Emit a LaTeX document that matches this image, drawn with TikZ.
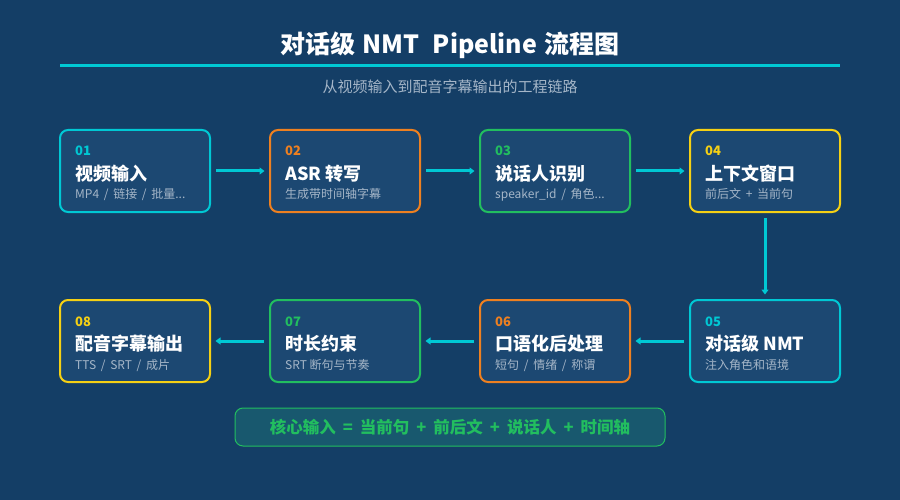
\documentclass[tikz,border=0pt]{standalone}
\usepackage{fontspec}
\setmainfont{Noto Sans CJK SC}
\usetikzlibrary{arrows.meta, positioning, calc}
\usepackage{xcolor}
\definecolor{bgblue}{RGB}{20,62,102}
\definecolor{boxfill}{RGB}{28,72,114}
\definecolor{accCyan}{RGB}{0,200,212}
\definecolor{accOrange}{RGB}{238,128,32}
\definecolor{accGreen}{RGB}{34,190,95}
\definecolor{accYellow}{RGB}{245,208,20}
\definecolor{subgray}{RGB}{165,182,200}
\definecolor{notefill}{RGB}{24,88,110}
\tikzstyle{stage} = [rectangle, rounded corners=8pt, minimum width=150pt, minimum height=82pt,
    line width=2pt, fill=boxfill]
\tikzstyle{num} = [anchor=base west, inner sep=0pt, font=\fontsize{13}{13}\selectfont\bfseries]
\tikzstyle{ttl} = [anchor=base west, inner sep=0pt, text=white, font=\fontsize{18}{18}\selectfont\bfseries]
\tikzstyle{sub} = [anchor=base west, inner sep=0pt, text=subgray, font=\fontsize{12}{12}\selectfont]
\tikzstyle{note} = [rectangle, rounded corners=8pt, minimum width=430pt, minimum height=38pt,
    draw=accGreen, line width=1pt, fill=notefill, text=accGreen, font=\fontsize{16.5}{16.5}\selectfont\bfseries]
\tikzstyle{arrow} = [line width=3pt, accCyan, shorten <=5pt, shorten >=4.5pt, -{Triangle[length=5pt,width=7pt]}]
\newcommand{\mkstage}[7]{%
  \node (#1) [stage, draw=#4] at (#2,#3) {};
  \node (#1num) [num, text=#4] at ($(#1.north west)+(16,27)$) {#5};
  \node (#1ttl) [ttl] at ($(#1.north west)+(16,51)$) {#6};
  \node (#1sub) [sub] at ($(#1.north west)+(16,70)$) {#7};}
\newcommand{\opsep}[1]{\hspace{7pt}#1\hspace{7pt}}
\newcommand{\sep}[1]{\hspace{2pt}#1\hspace{2pt}}

\begin{document}
\begin{tikzpicture}[x=1pt, y=-1pt]
\fill[bgblue] (0,0) rectangle (900,500);

% --- titulo ---
\node (title) [text=white, font=\fontsize{25}{25}\selectfont\bfseries] at (450,45)
  {对话级\hspace{7pt}NMT\hspace{13pt}Pipeline\hspace{7pt}流程图};
\draw[accCyan, line width=3pt] (60,66) -- (840,66);
\node (subtitle) [text=subgray, font=\fontsize{15}{15}\selectfont] at (450,87) {从视频输入到配音字幕输出的工程链路};

% --- fila superior ---
\mkstage{vin}{135}{171}{accCyan}{01}{视频输入}{MP4 \sep{/} 链接 \sep{/} 批量...}
\mkstage{asr}{345}{171}{accOrange}{02}{ASR 转写}{生成带时间轴字幕}
\mkstage{spk}{555}{171}{accGreen}{03}{说话人识别}{speaker\_id \sep{/} 角色...}
\mkstage{ctx}{765}{171}{accYellow}{04}{上下文窗口}{前后文 \sep{+} 当前句}

% --- fila inferior ---
\mkstage{nmt}{765}{341}{accCyan}{05}{对话级 NMT}{注入角色和语境}
\mkstage{post}{555}{341}{accOrange}{06}{口语化后处理}{短句 \sep{/} 情绪 \sep{/} 称谓}
\mkstage{dur}{345}{341}{accGreen}{07}{时长约束}{SRT 断句与节奏}
\mkstage{out}{135}{341}{accYellow}{08}{配音字幕输出}{TTS \sep{/} SRT \sep{/} 成片}

% --- flechas ---
\draw[arrow] (vin) -- (asr);
\draw[arrow] (asr) -- (spk);
\draw[arrow] (spk) -- (ctx);
\draw[arrow] (ctx) -- (nmt);
\draw[arrow] (nmt) -- (post);
\draw[arrow] (post) -- (dur);
\draw[arrow] (dur) -- (out);

% --- nota inferior ---
\node (core) [note] at (450,427)
  {核心输入\opsep{=}当前句\opsep{+}前后文\opsep{+}说话人\opsep{+}时间轴};
\end{tikzpicture}
\end{document}
